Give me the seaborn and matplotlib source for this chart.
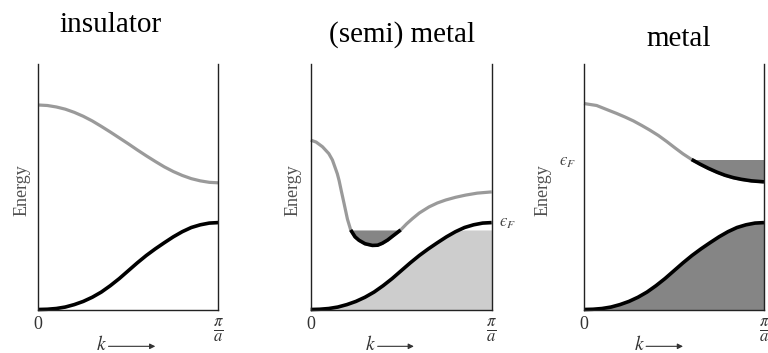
import numpy as np
import matplotlib
matplotlib.use("Agg")
import matplotlib.pyplot as plt
import seaborn as sns

sns.set_style("white")
plt.rcParams["font.family"] = ["Liberation Serif", "DejaVu Serif"]
plt.rcParams["mathtext.fontset"] = "stix"

titles = ["insulator", "(semi) metal", "metal"]
tick_labels = ["0", r"$\frac{\pi}{a}$"]
energy_label = "Energy"
fermi_label = "$\u03f5_F$"

# k in units of pi/a, energy as a fraction of the axis height
# lower band (same shape in all three panels)
k_lower = [0.0, 0.05, 0.1, 0.15, 0.2, 0.25, 0.3, 0.35, 0.4, 0.45, 0.5,
           0.55, 0.6, 0.65, 0.7, 0.75, 0.8, 0.85, 0.9, 0.95, 1.0]
lower_band = [0.0, 0.001, 0.004, 0.010, 0.020, 0.033, 0.050, 0.071, 0.097,
              0.126, 0.158, 0.190, 0.220, 0.247, 0.272, 0.296, 0.317, 0.334,
              0.345, 0.352, 0.354]

# upper band, insulator
k_ins = [0.0, 0.05, 0.1, 0.15, 0.2, 0.25, 0.3, 0.35, 0.4, 0.45, 0.5,
         0.55, 0.6, 0.65, 0.7, 0.75, 0.8, 0.85, 0.9, 0.95, 1.0]
upper_ins = [0.833, 0.831, 0.825, 0.816, 0.803, 0.787, 0.768, 0.746, 0.723,
             0.699, 0.675, 0.650, 0.626, 0.603, 0.581, 0.562, 0.546, 0.533,
             0.524, 0.518, 0.516]

# upper band, semimetal
k_semi = [0.0, 0.03, 0.065, 0.1, 0.12, 0.134, 0.147, 0.157, 0.17, 0.184,
          0.203, 0.221, 0.245, 0.267, 0.3, 0.341, 0.37, 0.396, 0.425, 0.451,
          0.497, 0.53, 0.562, 0.6, 0.654, 0.7, 0.746, 0.8, 0.856, 0.92, 1.0]
upper_semi = [0.690, 0.682, 0.663, 0.635, 0.609, 0.580, 0.553, 0.525, 0.480,
              0.433, 0.368, 0.324, 0.296, 0.282, 0.268, 0.261, 0.262, 0.270,
              0.283, 0.298, 0.324, 0.349, 0.370, 0.393, 0.418, 0.434, 0.446,
              0.457, 0.466, 0.474, 0.479]
fermi_semi = 0.324

# upper band, metal
k_met = [0.0, 0.07, 0.135, 0.18, 0.228, 0.275, 0.32, 0.365, 0.413, 0.46,
         0.506, 0.55, 0.598, 0.645, 0.691, 0.74, 0.783, 0.83, 0.876, 0.93,
         1.0]
upper_met = [0.839, 0.831, 0.812, 0.799, 0.784, 0.768, 0.750, 0.731, 0.709,
             0.684, 0.658, 0.634, 0.611, 0.592, 0.575, 0.559, 0.547, 0.537,
             0.530, 0.524, 0.520]
fermi_met = 0.611

W, H = 768, 353
axes_px = [(38.3, 180), (310.7, 181), (584, 180)]
title_pos = [(110, 32.5), (402, 41.7), (679, 46)]
energy_x = [-0.088, -0.098, -0.225]
k_label_x = [0.35, 0.33, 0.31]
arrow_x = [(0.39, 0.65), (0.37, 0.57), (0.345, 0.55)]

GRAY_LINE = "#9a9a9a"
LIGHT_FILL = "#cdcdcd"
DARK_FILL = "#858585"

fig = plt.figure(figsize=(W / 100, H / 100), dpi=100)


def draw_line(ax, x, y, color, lw):
    sns.lineplot(x=x, y=y, ax=ax, color=color, linewidth=lw,
                 estimator=None, sort=False, legend=False)
    line = ax.lines[-1]
    line.set_clip_on(False)
    line.set_solid_capstyle("butt")
    line.set_solid_joinstyle("round")


axs = []
for i, (left, width) in enumerate(axes_px):
    ax = fig.add_axes([left / W, 43.5 / H, width / W, 245.5 / H])
    ax.set_xlim(0, 1)
    ax.set_ylim(0, 1)
    ax.spines["top"].set_visible(False)
    for s in ["left", "right", "bottom"]:
        ax.spines[s].set_linewidth(1.0)
        ax.spines[s].set_color("#222222")
    ax.set_yticks([])
    ax.set_xticks([0, 1])
    ax.set_xticklabels(tick_labels)
    ax.tick_params(axis="x", length=0, pad=5, labelsize=13, colors="#333333")
    ax.get_xticklabels()[1].set_fontsize(17)
    ax.set_xlabel("")
    ax.set_ylabel("")
    ax.text(energy_x[i], 0.487, energy_label, rotation=90, ha="center",
            va="center", fontsize=13, color="#505050", transform=ax.transAxes)
    ax.text(k_label_x[i], -0.143, "$k$", ha="center", va="center",
            fontsize=14, color="#333333", transform=ax.transAxes)
    ax.annotate("", xy=(arrow_x[i][1], -0.15), xytext=(arrow_x[i][0], -0.15),
                xycoords="axes fraction", textcoords="axes fraction",
                annotation_clip=False,
                arrowprops=dict(arrowstyle="-|>", lw=0.8, color="#333333",
                                mutation_scale=8, shrinkA=0, shrinkB=0))
    fig.text(title_pos[i][0] / W, 1 - title_pos[i][1] / H, titles[i],
             ha="center", va="baseline", fontsize=21, color="black")
    axs.append(ax)

kl = np.array(k_lower)
el = np.array(lower_band)

# insulator
ax = axs[0]
draw_line(ax, k_ins, upper_ins, GRAY_LINE, 2.3)
draw_line(ax, k_lower, lower_band, "black", 2.6)

# semimetal
ax = axs[1]
ks = np.array(k_semi)
es = np.array(upper_semi)
ax.fill_between(kl, 0, np.minimum(el, fermi_semi), color=LIGHT_FILL, lw=0)
ax.fill_between(ks, es, fermi_semi, where=es <= fermi_semi + 1e-9,
                color=DARK_FILL, lw=0)
draw_line(ax, k_semi, upper_semi, GRAY_LINE, 2.3)
m = (es <= fermi_semi + 1e-9) & (ks > 0.2)
draw_line(ax, ks[m], es[m], "black", 2.6)
draw_line(ax, k_lower, lower_band, "black", 2.6)
ax.text(1.04, 0.352, fermi_label, ha="left", va="center", fontsize=12,
        color="#444444", transform=ax.transAxes)

# metal
ax = axs[2]
km = np.array(k_met)
em = np.array(upper_met)
ax.fill_between(kl, 0, el, color=DARK_FILL, lw=0)
ax.fill_between(km, em, fermi_met, where=em <= fermi_met + 1e-9,
                color=DARK_FILL, lw=0)
draw_line(ax, k_met, upper_met, GRAY_LINE, 2.3)
m = em <= fermi_met + 1e-9
draw_line(ax, km[m], em[m], "black", 2.6)
draw_line(ax, k_lower, lower_band, "black", 2.6)
ax.text(-0.09, 0.60, fermi_label, ha="center", va="center", fontsize=12,
        color="#444444", transform=ax.transAxes)

fig.savefig("out.png", dpi=100)
